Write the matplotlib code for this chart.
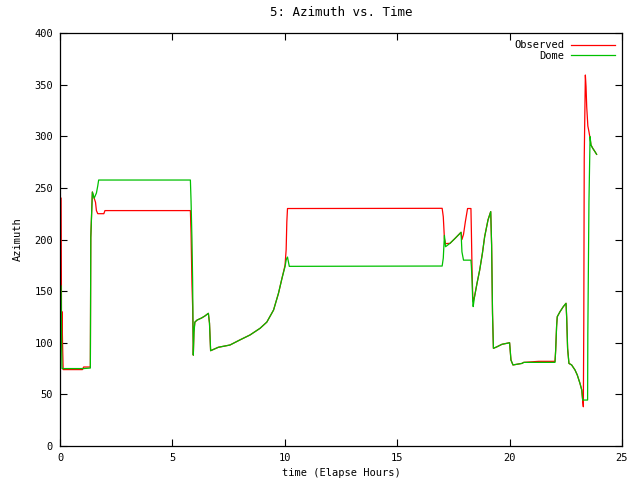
import matplotlib
matplotlib.use("Agg")
import matplotlib.pyplot as plt

# elapsed hours, observed azimuth, dome azimuth
hours = [0.05, 0.07, 0.09, 0.11, 0.14, 1.00, 1.05, 1.35, 1.37, 1.44,
         1.52, 1.58, 1.62, 1.68, 1.72, 1.95, 2.00, 5.80, 5.83, 5.87,
         5.90, 5.93, 5.96, 6.00, 6.10, 6.30, 6.45, 6.60, 6.65, 6.70,
         7.04, 7.56, 8.00, 8.45, 8.90, 9.20, 9.50, 9.72, 9.87, 10.01,
         10.06, 10.09, 10.12, 10.20, 17.00, 17.05, 17.10, 17.15, 17.35, 17.57,
         17.84, 17.88, 17.95, 18.03, 18.13, 18.28, 18.30, 18.33, 18.36, 18.38,
         18.44, 18.55, 18.67, 18.79, 18.89, 19.04, 19.16, 19.20, 19.24, 19.28,
         19.43, 19.66, 20.00, 20.06, 20.15, 20.55, 20.63, 21.30, 22.02, 22.05,
         22.09, 22.12, 22.24, 22.39, 22.51, 22.54, 22.58, 22.64, 22.76, 22.91,
         23.01, 23.13, 23.21, 23.25, 23.28, 23.30, 23.32, 23.37, 23.40, 23.43,
         23.47, 23.48, 23.53, 23.58, 23.62, 23.70, 23.80, 23.87]
observed = [240, 103, 130, 103, 74, 74, 76.5, 76.5, 202, 246,
            240, 236, 228, 225, 225, 225, 228, 228, 206, 157,
            135, 88, 112, 120, 122, 124, 126, 128.5, 119, 92.3,
            95.6, 97.8, 102.7, 107.5, 114, 120, 131.7, 148, 162, 175,
            190, 217, 230, 230, 230.2, 222, 201, 196, 196.3, 201,
            207, 200, 205, 217, 230, 230, 208, 170, 146, 140,
            144.6, 157.5, 170.5, 186.6, 202.7, 219, 227, 194.7, 128.5, 94.6,
            96, 98.5, 100, 83.3, 78.5, 80, 81, 82, 82, 93,
            115.6, 125.2, 130, 135, 138.2, 124, 94.6, 80, 78.5, 73.6,
            68.8, 60.7, 54.2, 44.5, 38, 118.8, 278.6, 359.3, 348, 328.6,
            314, 310, 304.4, 298, 291.5, 288.3, 285, 282.5]
dome = [155, 103, 75, 75, 75, 75, 75, 75.5, 202, 246,
        240, 243, 245, 252, 257.6, 257.6, 257.6, 257.6, 237, 200,
        160, 88, 110, 120, 122, 124, 126, 128.5, 119, 92.3,
        95.6, 97.8, 102.7, 107.5, 114, 120, 131.7, 148, 162, 173.7,
        180, 181.8, 183, 174, 174.3, 182, 204, 193, 196.3, 201,
        207, 188, 180, 180, 180, 180, 174, 160, 140, 135,
        144.6, 157.5, 170.5, 186.6, 202.7, 219, 227, 194.7, 128.5, 94.6,
        96, 98.5, 100, 83.3, 78.5, 80, 81, 81, 81, 93,
        115.6, 125.2, 130, 135, 138.2, 124, 94.6, 80, 78.5, 73.6,
        68.8, 60.7, 54.2, 44.5, 44.5, 44.5, 44.5, 44.5, 44.5, 44.5,
        44.5, 109, 236.6, 299.6, 291.5, 288.3, 285, 282.5]

plt.rcParams['font.family'] = ['DejaVu Sans Mono']
plt.rcParams['font.size'] = 7.5

fig = plt.figure(figsize=(6.4, 4.8), dpi=100)
ax = fig.add_axes([60/640, 34/480, 562/640, 413/480])

ax.plot(hours, observed, color='#ff0000', lw=0.9, label='Observed')
ax.plot(hours, dome, color='#00c000', lw=0.9, label='Dome')

ax.set_xlim(0, 25)
ax.set_ylim(0, 400)
ax.set_xticks(range(0, 26, 5))
ax.set_yticks(range(0, 401, 50))
ax.tick_params(direction='in', top=True, right=True, length=5, width=0.8, pad=5)
for s in ax.spines.values():
    s.set_linewidth(0.9)

ax.set_title('5: Azimuth vs. Time', pad=12)
ax.set_xlabel('time (Elapse Hours)', labelpad=4)
ax.set_ylabel('Azimuth', labelpad=8)

ax.legend(loc='upper right', frameon=False, markerfirst=False, handlelength=4.2,
          handletextpad=0.6, labelspacing=0.05, borderaxespad=0.3)

fig.savefig('out.png', dpi=100)
